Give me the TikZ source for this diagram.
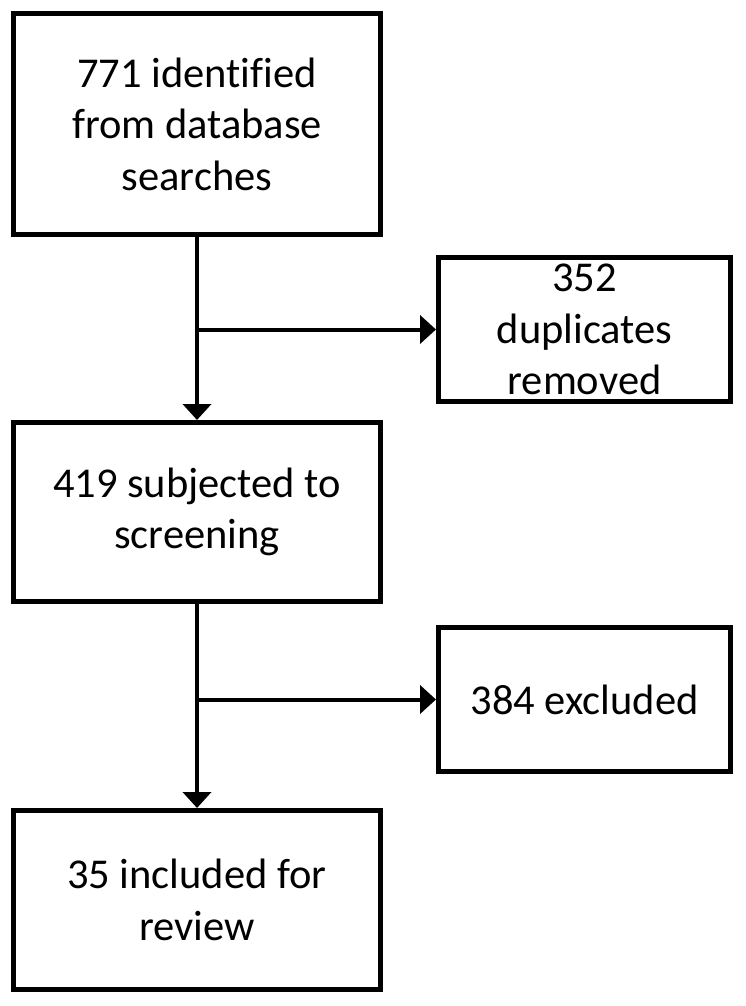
\documentclass[tikz,border=0pt]{standalone}
\usepackage{fontspec}
\setmainfont{Carlito}[Ligatures=NoCommon]
\usetikzlibrary{arrows.meta}
\begin{document}
\begin{tikzpicture}[x=1pt,y=-1pt,
  flowbox/.style={draw=black, line width=5pt, fill=white, align=center,
    inner sep=0pt, font=\fontsize{42.5}{51.5}\selectfont},
  mainbox/.style={flowbox, minimum width=367pt, minimum height=179pt},
  sidebox/.style={flowbox, minimum width=292pt, minimum height=144pt},
  conn/.style={line width=4pt, -{Triangle[length=16pt,width=28pt]}}]
\useasboundingbox (0,0) rectangle (746,1006);
\node[mainbox, minimum height=221pt] (b1) at (197,124) {771 identified\\from database\\searches};
\node[sidebox] (b2) at (584.5,329.5) {352\\duplicates\\removed};
\node[mainbox] (b3) at (197,512) {419 subjected to\\screening};
\node[sidebox] (b4) at (584.5,699.5) {384 excluded};
\node[mainbox] (b5) at (197,900) {35 included for\\review};
\coordinate (j1) at (b1.south |- b2.west);
\coordinate (j2) at (b3.south |- b4.west);
\draw[conn] (b1.south) -- (b3.north);
\draw[conn] (j1) -- (b2.west);
\draw[conn] (b3.south) -- (b5.north);
\draw[conn] (j2) -- (b4.west);
\end{tikzpicture}
\end{document}
